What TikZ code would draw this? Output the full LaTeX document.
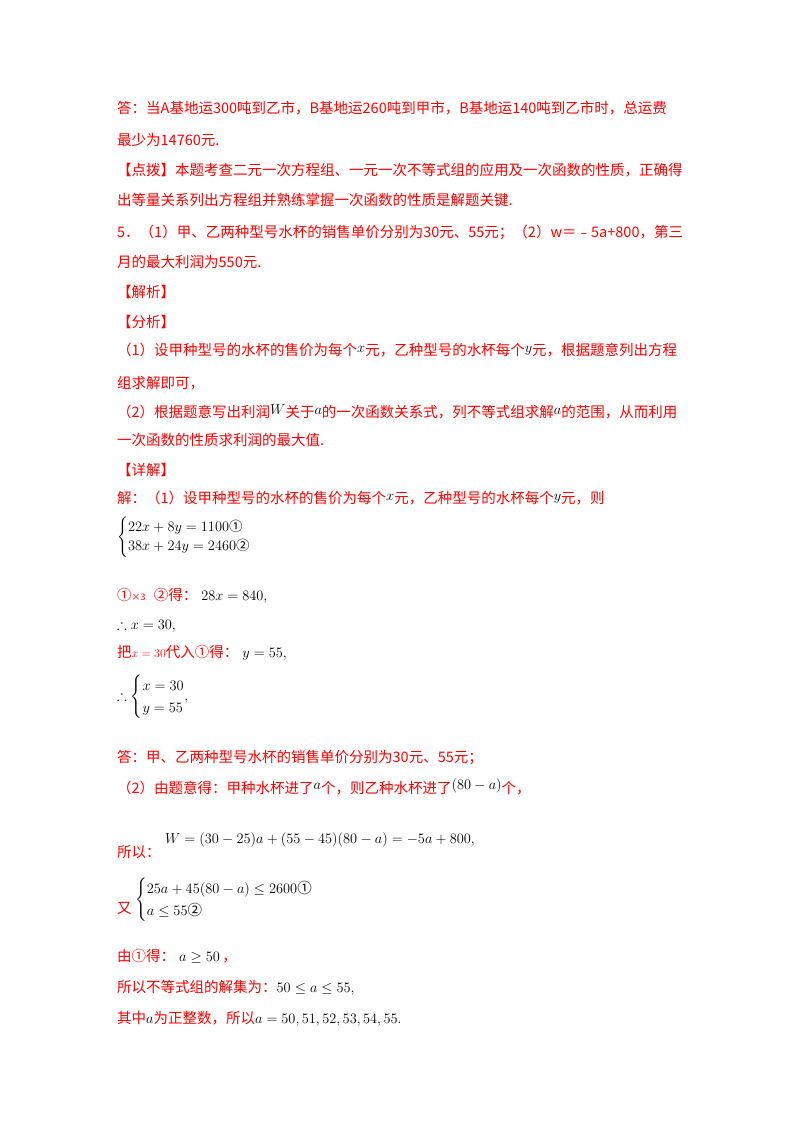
\documentclass[tikz,border=0pt]{standalone}
\usepackage{amsmath,amssymb}
\usepackage{fontspec}
\setmainfont{Liberation Serif}
\newfontfamily\cn{Noto Sans CJK SC}
\newcommand{\cA}{\text{\cn ①}}
\newcommand{\cB}{\text{\cn ②}}
\begin{document}
\begin{tikzpicture}[x=1pt,y=-1pt,
  t/.style={anchor=base west,inner sep=0pt,text=red,font=\fontsize{14.5}{18}\selectfont\cn},
  m/.style={anchor=base west,inner sep=0pt,text=black,font=\fontsize{14.5}{18}\selectfont}]
\useasboundingbox (0,0) rectangle (800,1132);
\node[t] (l1) at (117,113) {答：当A基地运300吨到乙市，B基地运260吨到甲市，B基地运140吨到乙市时，总运费};
\node[t] (l2) at (117,145) {最少为14760元.};
\node[t] (l3) at (117,175) {【点拨】本题考查二元一次方程组、一元一次不等式组的应用及一次函数的性质，正确得};
\node[t] (l4) at (117,205) {出等量关系列出方程组并熟练掌握一次函数的性质是解题关键.};
\node[t] (l5) at (117,237) {5．（1）甲、乙两种型号水杯的销售单价分别为30元、55元；（2）\textit{w}＝﹣5\textit{a}+800，第三};
\node[t] (l6) at (117,267) {月的最大利润为550元.};
\node[t] (l7) at (117,297) {【解析】};
\node[t] (l8) at (117,327) {【分析】};
\node[t] (l9) at (117,355) {（1）设甲种型号的水杯的售价为每个\raisebox{3pt}{\textcolor{black}{$x$}}元，乙种型号的水杯每个\raisebox{3pt}{\textcolor{black}{$y$}}元，根据题意列出方程};
\node[t] (l10) at (117,388) {组求解即可，};
\node[t] (l11) at (117,417) {（2）根据题意写出利润\raisebox{3pt}{\textcolor{black}{$W$}}关于\raisebox{3pt}{\textcolor{black}{$a$}}的一次函数关系式，列不等式组求解\raisebox{3pt}{\textcolor{black}{$a$}}的范围，从而利用};
\node[t] (l12) at (117,445) {一次函数的性质求利润的最大值.};
\node[t] (l13) at (117,475) {【详解】};
\node[t] (l14) at (117,503) {解：（1）设甲种型号的水杯的售价为每个\raisebox{3pt}{\textcolor{black}{$x$}}元，乙种型号的水杯每个\raisebox{3pt}{\textcolor{black}{$y$}}元，则};
\node[m,anchor=west,font=\fontsize{13.5}{16}\selectfont] (e1) at (117,537) {$\begin{cases}22x+8y=1100\cA\\ 38x+24y=2460\cB\end{cases}$};
\node[t] (l15) at (117,600) {①{\fontsize{9}{10}\selectfont ×3}\;\;②得：\textcolor{black}{$\;28x=840,$}};
\node[m] (l16) at (117,629) {$\therefore x=30,$};
\node[t] (l17) at (117,657) {把{\fontsize{12.5}{14}\selectfont\textcolor{red}{$x=30$}}代入①得：\textcolor{black}{$\;y=55,$}};
\node[m,anchor=west] (e2) at (117,697) {$\therefore\begin{cases}x=30\\ y=55\end{cases}\hspace{-1.2em},$};
\node[t] (l18) at (117,762) {答：甲、乙两种型号水杯的销售单价分别为30元、55元；};
\node[t] (l19) at (117,793) {（2）由题意得：甲种水杯进了\raisebox{4pt}{\textcolor{black}{$a$}}个，则乙种水杯进了\raisebox{4pt}{\textcolor{black}{$(80-a)$}}个，};
\node[t] (l20) at (117,857) {所以：};
\node[m] (e3) at (165,843) {$W=(30-25)a+(55-45)(80-a)=-5a+800,$};
\node[t] (l21) at (117,913) {又};
\node[m,anchor=west] (e4) at (135,900) {$\begin{cases}25a+45(80-a)\le 2600\cA\\ a\le 55\cB\end{cases}$};
\node[t] (l22) at (117,961) {由①得：\textcolor{black}{$\;a\ge 50$}\,，};
\node[t] (l23) at (117,992) {所以不等式组的解集为：\textcolor{black}{$50\le a\le 55,$}};
\node[t] (l24) at (117,1023) {其中\textcolor{black}{$a$}为正整数，所以\textcolor{black}{$a=50,51,52,53,54,55.$}};
\end{tikzpicture}
\end{document}
